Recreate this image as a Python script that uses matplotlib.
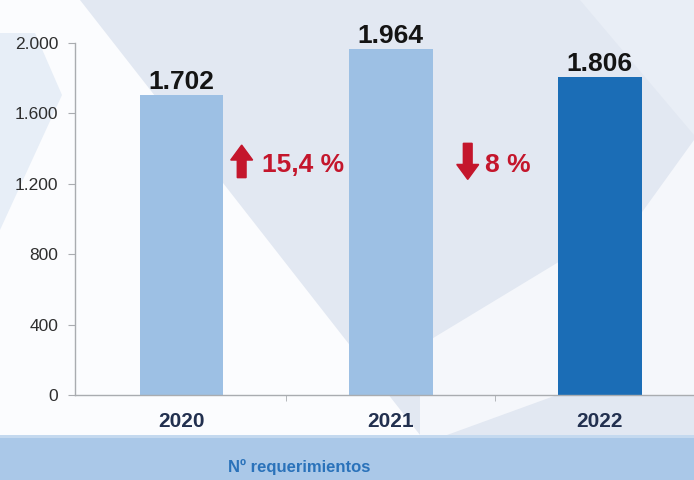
import matplotlib
matplotlib.use("Agg")
import matplotlib.pyplot as plt
from matplotlib.patches import Polygon, Rectangle, FancyArrow
from matplotlib.ticker import FuncFormatter, FixedLocator

# ---- data ----
years = ["2020", "2021", "2022"]
values = [1702, 1964, 1806]
value_labels = ["1.702", "1.964", "1.806"]
bar_colors = ["#9dc0e4", "#9dc0e4", "#1b6db6"]
changes = ["15,4 %", "8 %"]
change_dirs = ["up", "down"]
yticks = [0, 400, 800, 1200, 1600, 2000]
footer = "Nº requerimientos"

W, H = 694, 480
plt.rcParams['font.family'] = ['Liberation Sans', 'DejaVu Sans']
fig = plt.figure(figsize=(W / 100, H / 100), dpi=100)
fig.patch.set_facecolor("#e2e8f2")

# background axes in pixel coordinates (y down)
bg = fig.add_axes([0, 0, 1, 1], zorder=-5)
bg.set_xlim(0, W)
bg.set_ylim(H, 0)
bg.axis("off")

def poly(pts, color):
    bg.add_patch(Polygon(pts, closed=True, facecolor=color, edgecolor="none"))

poly([(0, 0), (80, 0), (420, 435), (0, 435)], "#fbfcfe")
poly([(0, 33), (35, 33), (62, 95), (0, 230)], "#e7eef7")
poly([(580, 0), (694, 0), (694, 135)], "#e9eef6")
poly([(694, 140), (694, 395), (557, 395), (447, 435), (420, 435),
      (420, 346), (557, 263), (640, 215)], "#f5f7fb")
bg.add_patch(Rectangle((0, 435), W, H - 435, facecolor="#aac8e8", edgecolor="none"))
bg.add_patch(Rectangle((0, 435), W, 3, facecolor="#c4d9ef", edgecolor="none"))
bg.text(299, 467, footer, ha="center", va="center",
        fontsize=12, fontweight="bold", color="#2a72ba")

ax = fig.add_axes([75 / W, 1 - 395 / H, 1 - 75 / W, (395 - 43) / H])
ax.set_facecolor("none")
x = list(range(len(years)))
ax.bar(x, values, width=0.40, color=bar_colors, zorder=2)
ax.set_xlim(-0.51, 2.45)
ax.set_ylim(0, 2000)

for xi, v, lab in zip(x, values, value_labels):
    ax.annotate(lab, (xi, v), xytext=(0, 1), textcoords="offset points",
                ha="center", va="bottom", fontsize=19, fontweight="bold",
                color="#141414", annotation_clip=False)

# change arrows and labels
red = "#c4162c"
arrow_x = [0.287, 1.368]
text_x = [0.385, 1.452]
for ax_x, tx, lab, d in zip(arrow_x, text_x, changes, change_dirs):
    if d == "up":
        ax.add_patch(FancyArrow(ax_x, 1235, 0, 185, width=0.042, head_width=0.105,
                                head_length=85, length_includes_head=True,
                                color=red, zorder=3))
    else:
        ax.add_patch(FancyArrow(ax_x, 1430, 0, -205, width=0.042, head_width=0.105,
                                head_length=85, length_includes_head=True,
                                color=red, zorder=3))
    ax.text(tx, 1305, lab, ha="left", va="center", fontsize=19,
            fontweight="bold", color=red)

for s in ["top", "right"]:
    ax.spines[s].set_visible(False)
for s in ["left", "bottom"]:
    ax.spines[s].set_color("#a9acb0")
    ax.spines[s].set_linewidth(1.0)

ax.set_yticks(yticks)
ax.yaxis.set_major_formatter(FuncFormatter(lambda v, p: f"{int(v):,}".replace(",", ".")))
ax.tick_params(axis="y", length=5, color="#a9acb0", labelsize=12.5,
               labelcolor="#2e2e2e", pad=7)
ax.set_xticks(x)
ax.set_xticklabels(years, fontsize=15, fontweight="bold", color="#22304f")
ax.tick_params(axis="x", length=0, pad=12)
ax.xaxis.set_minor_locator(FixedLocator([0.5, 1.5]))
ax.tick_params(axis="x", which="minor", length=4, color="#a9acb0")

fig.savefig("out.png", dpi=100, facecolor=fig.get_facecolor())
